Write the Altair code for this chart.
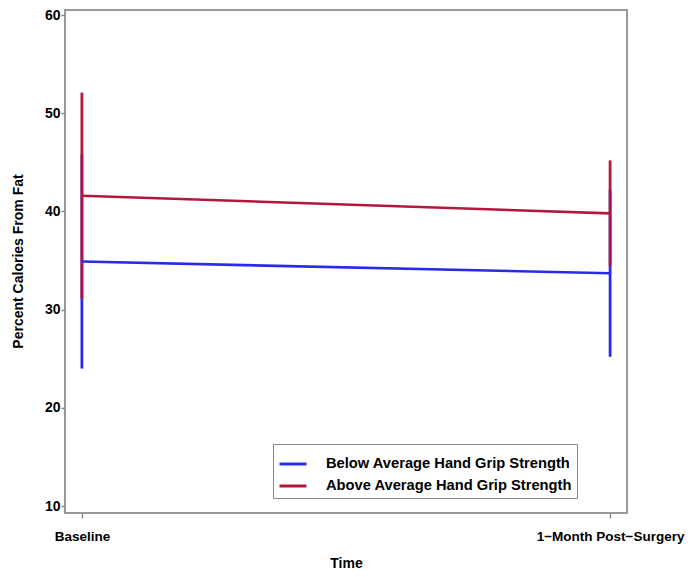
import altair as alt
import pandas as pd

times = ["Baseline", "1\u2212Month Post\u2212Surgery"]
groups = ["Below Average Hand Grip Strength", "Above Average Hand Grip Strength"]
below_mean = [34.9, 33.7]
below_lo = [24.0, 25.2]
below_hi = [45.8, 42.2]
above_mean = [41.6, 39.8]
above_lo = [31.1, 34.4]
above_hi = [52.1, 45.2]
colors = ["#2a2ae6", "#b2183c"]
y_ticks = [10, 20, 30, 40, 50, 60]

rows = []
for g, m, lo, hi in [(groups[0], below_mean, below_lo, below_hi),
                     (groups[1], above_mean, above_lo, above_hi)]:
    for i, t in enumerate(times):
        rows.append({"time": t, "group": g, "mean": m[i], "lo": lo[i], "hi": hi[i]})
df = pd.DataFrame(rows)

FONT = "Liberation Sans"

x = alt.X("time:N", sort=times, scale=alt.Scale(type="point", padding=0.032),
          axis=alt.Axis(title="Time", labelAngle=0, labelFont=FONT, labelFontWeight="bold",
                        labelFontSize=13.5, labelColor="black", labelPadding=11,
                        tickColor="#888", tickSize=5, tickWidth=1.5, domain=False,
                        titleFont=FONT, titleFontWeight="bold", titleFontSize=14,
                        titleColor="black", titleX=281, titleY=50, titleBaseline="middle"))

y_scale = alt.Scale(domain=[9.29, 60.51], nice=False, zero=False)
y_axis = alt.Axis(title="Percent Calories From Fat", values=y_ticks, grid=False, domain=False,
                  labelFont=FONT, labelFontWeight="bold", labelFontSize=14, labelColor="black",
                  labelPadding=1, tickColor="#888", tickSize=4, tickWidth=1.5,
                  titleFont=FONT, titleFontWeight="bold", titleFontSize=14, titleColor="black",
                  titleX=-47, titleY=251, titleAngle=270, titleAlign="center",
                  titleBaseline="middle")

color = alt.Color("group:N", sort=groups, scale=alt.Scale(domain=groups, range=colors),
                  legend=alt.Legend(title=None, orient="none", legendX=208, legendY=434,
                                    symbolType="stroke", symbolSize=729, symbolStrokeWidth=3,
                                    labelFont=FONT, labelFontWeight="bold", labelFontSize=14.7,
                                    labelColor="black", labelOffset=18, labelLimit=400,
                                    strokeColor="#888", padding=5, rowPadding=0,
                                    fillColor="white"))

rules = alt.Chart(df).mark_rule(strokeWidth=2.8).encode(
    x=x, y=alt.Y("lo:Q", scale=y_scale, axis=y_axis), y2="hi:Q", color=color)

lines = alt.Chart(df).mark_line(strokeWidth=2.6).encode(
    x=x, y=alt.Y("mean:Q", scale=y_scale, axis=y_axis), color=color, detail="group:N")

chart = alt.layer(rules, lines).properties(
    width=562, height=503,
    padding={"left": 57, "top": 2, "right": 60, "bottom": 56},
    autosize=alt.AutoSizeParams(type="none"),
    background="white",
).configure_view(stroke="#999", strokeWidth=2)

chart.save("out.html", embed_options={"renderer": "svg", "actions": False})
